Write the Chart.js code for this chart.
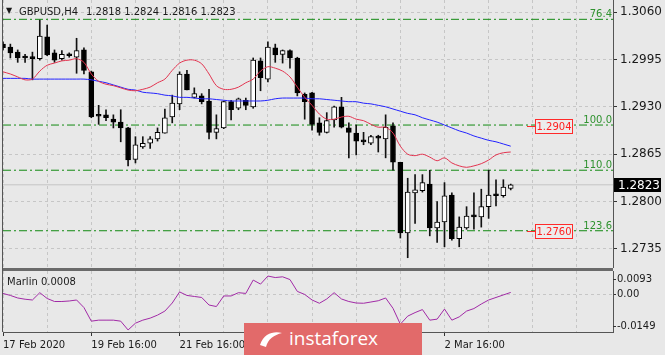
<!DOCTYPE html>
<html>
<head>
<meta charset="utf-8">
<script src="https://cdn.jsdelivr.net/npm/chart.js@4.4.0/dist/chart.umd.min.js"></script>
<style>
  html, body { margin: 0; padding: 0; background: #e8e8e8; }
  #wrap { position: relative; width: 665px; height: 355px; overflow: hidden; background: #e8e8e8; font-family: "DejaVu Sans", sans-serif; color: #1a1a1a; }
  #main { position: absolute; left: 0; top: 0; }
  #sub { position: absolute; left: 0; top: 268px; }
  .txt { position: absolute; font-size: 10px; line-height: 12px; white-space: pre; }
  #logo { position: absolute; left: 244px; top: 323px; width: 178px; height: 32px; background: #e26a6a; }
  #logo span { position: absolute; left: 45px; top: 3px; font-family: "Open Sans", sans-serif; font-size: 19px; line-height: 24px; color: #fff; }
  #logo svg { position: absolute; left: 14px; top: 6px; }
</style>
</head>
<body>
<div id="wrap">
  <canvas id="main" width="665" height="268"></canvas>
  <canvas id="sub" width="665" height="87"></canvas>
  <div class="txt" style="left:6px;top:5px;font-size:8px;">▼</div>
  <div class="txt" id="sym" style="left:19px;top:6px;"></div>
  <div class="txt" id="ohlc" style="left:86px;top:6px;"></div>
  <div id="logo">
    <svg width="26" height="20" viewBox="0 0 26 20"><path d="M2 16 C6 4, 16 2, 24 4 C16 6, 10 10, 8 18 Z" fill="#fff"/></svg>
    <span>instaforex</span>
  </div>
</div>
<script>
// GBPUSD H4 candles, bar 0 = 17 Feb 2020 16:00
var symbol = 'GBPUSD,H4';
var open = [
  1.3016, 1.3012, 1.3005, 1.2998, 1.2997, 1.2996, 1.3026, 1.3004, 1.2996, 1.3001,
  1.2998, 1.3008, 1.2978, 1.2919, 1.2919, 1.2913, 1.2909, 1.2901, 1.2858, 1.2875,
  1.2880, 1.2886, 1.2894, 1.2916, 1.2934, 1.2975, 1.2943, 1.2945, 1.2938, 1.2895,
  1.2901, 1.2937, 1.2928, 1.2939, 1.2930, 1.2993, 1.2968, 1.3011, 1.3002, 1.3007,
  1.2997, 1.2947, 1.2949, 1.2908, 1.2895, 1.2912, 1.2930, 1.2901, 1.2894, 1.2883,
  1.2880, 1.2889, 1.2886, 1.2904, 1.2854, 1.2757, 1.2812, 1.2815, 1.2824, 1.2764,
  1.2772, 1.2809, 1.2749, 1.2764, 1.2780, 1.2779, 1.2793, 1.2809, 1.2808, 1.2818
];
var high = [
  1.3019, 1.3016, 1.3008, 1.3002, 1.3005, 1.3049, 1.3042, 1.3008, 1.3007, 1.3004,
  1.3024, 1.3011, 1.2979, 1.2932, 1.2926, 1.2919, 1.2926, 1.2902, 1.2889, 1.2889,
  1.2889, 1.2901, 1.2927, 1.2946, 1.2978, 1.2980, 1.2956, 1.2948, 1.2954, 1.2919,
  1.2938, 1.2939, 1.2942, 1.2942, 1.2997, 1.2997, 1.3019, 1.3016, 1.3008, 1.3008,
  1.2998, 1.2949, 1.2950, 1.2915, 1.2922, 1.2931, 1.2943, 1.2908, 1.2905, 1.2895,
  1.2891, 1.2891, 1.2919, 1.2908, 1.2854, 1.2832, 1.2837, 1.2837, 1.2843, 1.2800,
  1.2826, 1.2812, 1.2779, 1.2793, 1.2812, 1.2817, 1.2843, 1.2830, 1.2830, 1.2824
];
var low = [
  1.3008, 1.2997, 1.2991, 1.2991, 1.2967, 1.2994, 1.3000, 1.2991, 1.2994, 1.2998,
  1.2976, 1.2975, 1.2915, 1.2906, 1.2911, 1.2901, 1.2882, 1.2849, 1.2853, 1.2873,
  1.2873, 1.2883, 1.2894, 1.2908, 1.2926, 1.2953, 1.2942, 1.2934, 1.2886, 1.2886,
  1.2900, 1.2912, 1.2926, 1.2926, 1.2928, 1.2952, 1.2964, 1.2991, 1.2990, 1.2983,
  1.2945, 1.2913, 1.2898, 1.2891, 1.2894, 1.2902, 1.2901, 1.2860, 1.2864, 1.2878,
  1.2878, 1.2868, 1.2860, 1.2843, 1.2750, 1.2723, 1.2770, 1.2813, 1.2753, 1.2744,
  1.2738, 1.2747, 1.2738, 1.2762, 1.2762, 1.2765, 1.2777, 1.2794, 1.2806, 1.2816
];
var close = [
  1.3011, 1.3004, 1.2997, 1.2997, 1.2996, 1.3027, 1.3001, 1.2994, 1.3002, 1.3000,
  1.3007, 1.2980, 1.2916, 1.2917, 1.2915, 1.2909, 1.2901, 1.2857, 1.2878, 1.2880,
  1.2886, 1.2895, 1.2915, 1.2935, 1.2975, 1.2953, 1.2948, 1.2937, 1.2895, 1.2900,
  1.2937, 1.2926, 1.2941, 1.2932, 1.2994, 1.2970, 1.3012, 1.3001, 1.3007, 1.2997,
  1.2949, 1.2937, 1.2906, 1.2895, 1.2911, 1.2930, 1.2902, 1.2895, 1.2883, 1.2882,
  1.2889, 1.2887, 1.2902, 1.2854, 1.2757, 1.2813, 1.2816, 1.2826, 1.2764, 1.2772,
  1.2808, 1.2749, 1.2765, 1.2780, 1.2779, 1.2793, 1.2809, 1.2808, 1.2820, 1.2823
];
// moving averages
var fastMA = [
  1.2978, 1.2975, 1.2971, 1.2967, 1.2968, 1.2979, 1.2987, 1.2990, 1.2993, 1.2994,
  1.2996, 1.2991, 1.2975, 1.2965, 1.2961, 1.2959, 1.2956, 1.2953, 1.2952, 1.2954,
  1.2957, 1.2963, 1.2968, 1.2980, 1.2990, 1.2994, 1.2994, 1.2989, 1.2975, 1.2959,
  1.2954, 1.2954, 1.2957, 1.2963, 1.2968, 1.2979, 1.2985, 1.2983, 1.2979, 1.2971,
  1.2957, 1.2943, 1.2932, 1.2920, 1.2913, 1.2913, 1.2916, 1.2917, 1.2913, 1.2911,
  1.2906, 1.2902, 1.2902, 1.2894, 1.2876, 1.2865, 1.2863, 1.2865, 1.2861, 1.2856,
  1.2860, 1.2853, 1.2849, 1.2847, 1.2849, 1.2852, 1.2857, 1.2864, 1.2867, 1.2868
];
var slowMA = [
  1.2969, 1.2969, 1.2969, 1.2969, 1.2968, 1.2968, 1.2968, 1.2968, 1.2968, 1.2968,
  1.2968, 1.2968, 1.2967, 1.2965, 1.2963, 1.2960, 1.2957, 1.2954, 1.2953, 1.2950,
  1.2949, 1.2948, 1.2946, 1.2945, 1.2943, 1.2943, 1.2942, 1.2941, 1.2941, 1.2940,
  1.2939, 1.2938, 1.2938, 1.2938, 1.2938, 1.2938, 1.2939, 1.2941, 1.2942, 1.2942,
  1.2942, 1.2942, 1.2941, 1.2941, 1.2940, 1.2939, 1.2938, 1.2937, 1.2937, 1.2935,
  1.2934, 1.2932, 1.2930, 1.2927, 1.2924, 1.2921, 1.2919, 1.2915, 1.2912, 1.2909,
  1.2905, 1.2901, 1.2897, 1.2894, 1.2890, 1.2887, 1.2884, 1.2882, 1.2879, 1.2876
];
var marlin = [
  0.0004, -0.0004, -0.0014, -0.0019, -0.0022, 0.0007, -0.0016, -0.0028, -0.0028, -0.0026,
  -0.0022, -0.0052, -0.0106, -0.0102, -0.0102, -0.0102, -0.0106, -0.0141, -0.0114, -0.0102,
  -0.0094, -0.0082, -0.0066, -0.0034, 0.0010, -0.0004, -0.0008, -0.0012, -0.0042, -0.0048,
  -0.0006, -0.0006, 0.0007, 0.0004, 0.0057, 0.0041, 0.0073, 0.0067, 0.0070, 0.0059,
  0.0012, 0.0000, -0.0022, -0.0035, -0.0018, 0.0007, -0.0018, -0.0028, -0.0034, -0.0035,
  -0.0030, -0.0025, -0.0014, -0.0055, -0.0118, -0.0086, -0.0072, -0.0060, -0.0102, -0.0098,
  -0.0058, -0.0102, -0.0089, -0.0066, -0.0056, -0.0038, -0.0022, -0.0012, -0.0002, 0.0008
];
var priceTicks = [1.3060, 1.2995, 1.2930, 1.2865, 1.2800, 1.2735];
var fibLevels = [1.3050, 1.2905, 1.2843, 1.2760];
var fibNames = ['76.4', '100.0', '110.0', '123.6'];
var alertLevels = [1.2904, 1.2760];
var marlinTicks = [0.0093, 0, -0.0149];
var dateLabels = ['17 Feb 2020', '19 Feb 16:00', '21 Feb 16:00', '25 Feb 16:00', '27 Feb 16:00', '2 Mar 16:00'];
var barsPerLabel = 12;
var barsPerGrid = 6;

var last = close.length - 1;
var xMax = 82.9;

Chart.defaults.font.family = '"DejaVu Sans", sans-serif';
Chart.defaults.color = '#1a1a1a';
Chart.defaults.animation = false;

document.getElementById('sym').textContent = symbol;
document.getElementById('ohlc').textContent = [open[last], high[last], low[last], close[last]].map(function (v) { return v.toFixed(4); }).join(' ');

function pts(arr) { return arr.map(function (v, i) { return { x: i, y: v }; }); }
function hline(v) { return [{ x: 0, y: v }, { x: xMax, y: v }]; }
function gridTicks(scale) {
    var t = [];
    for (var v = 0; v <= xMax; v += barsPerGrid) t.push({ value: v });
    scale.ticks = t;
}

var GRID = '#c6c6c6';
var AXIS = '#555555';

/* main price window */
var mainDecor = {
    id: 'mainDecor',
    afterDraw: function (chart) {
        var ctx = chart.ctx, a = chart.chartArea, y = chart.scales.y;
        ctx.save();
        ctx.strokeStyle = AXIS;
        ctx.lineWidth = 1;
        ctx.beginPath(); ctx.moveTo(a.left - 0.5, 0); ctx.lineTo(a.left - 0.5, a.bottom); ctx.stroke();

        ctx.font = '10px "DejaVu Sans"';
        ctx.fillStyle = '#2f922f';
        ctx.textAlign = 'right';
        ctx.textBaseline = 'alphabetic';
        fibLevels.forEach(function (lv, i) {
            ctx.fillText(fibNames[i], a.right - 1, y.getPixelForValue(lv) - 2);
        });

        alertLevels.forEach(function (lv) {
            var py = Math.round(y.getPixelForValue(lv)) + 0.5;
            var bx = a.right - 78, bw = 38;
            ctx.strokeStyle = '#ff2a2a';
            ctx.beginPath(); ctx.moveTo(bx - 8, py); ctx.lineTo(bx, py); ctx.stroke();
            ctx.fillStyle = '#ececec';
            ctx.fillRect(bx, py - 7, bw, 14);
            ctx.strokeRect(bx + 0.5, py - 7, bw - 1, 14);
            ctx.fillStyle = '#ff2020';
            ctx.textAlign = 'center';
            ctx.textBaseline = 'middle';
            ctx.fillText(lv.toFixed(4), bx + bw / 2, py + 0.5);
        });

        var cy = Math.round(y.getPixelForValue(close[last]));
        ctx.fillStyle = '#000';
        ctx.fillRect(a.right + 1, cy - 7, 47, 14);
        ctx.fillStyle = '#fff';
        ctx.font = '12px "DejaVu Sans"';
        ctx.textAlign = 'left';
        ctx.textBaseline = 'middle';
        ctx.fillText(close[last].toFixed(4), a.right + 5, cy + 0.5);
        ctx.restore();
    }
};

new Chart(document.getElementById('main'), {
    type: 'bar',
    data: {
        datasets: [
            { type: 'line', data: pts(fastMA), borderColor: '#e2334f', borderWidth: 1, pointRadius: 0, tension: 0.3, order: 1 },
            { type: 'line', data: pts(slowMA), borderColor: '#2222ff', borderWidth: 1, pointRadius: 0, tension: 0.3, order: 2 },
            {
                type: 'bar',
                data: open.map(function (o, i) { return { x: i, y: [o, close[i]] }; }),
                backgroundColor: function (c) { return close[c.dataIndex] >= open[c.dataIndex] ? '#ffffff' : '#000000'; },
                borderColor: '#000', borderWidth: 1, borderSkipped: false,
                barThickness: 5, minBarLength: 2, grouped: false, order: 3
            },
            {
                type: 'bar',
                data: low.map(function (l, i) { return { x: i, y: [l, high[i]] }; }),
                backgroundColor: '#111', barThickness: 1, grouped: false, order: 4
            },
            { type: 'line', data: hline(fibLevels[0]), borderColor: '#128a12', borderWidth: 1, borderDash: [8, 3, 2, 3], pointRadius: 0, order: 5 },
            { type: 'line', data: hline(fibLevels[1]), borderColor: '#128a12', borderWidth: 1, borderDash: [8, 3, 2, 3], pointRadius: 0, order: 5 },
            { type: 'line', data: hline(fibLevels[2]), borderColor: '#128a12', borderWidth: 1, borderDash: [8, 3, 2, 3], pointRadius: 0, order: 5 },
            { type: 'line', data: hline(fibLevels[3]), borderColor: '#128a12', borderWidth: 1, borderDash: [8, 3, 2, 3], pointRadius: 0, order: 5 },
            { type: 'line', data: hline(close[last]), borderColor: '#c4c4c4', borderWidth: 1, pointRadius: 0, order: 6 }
        ]
    },
    options: {
        responsive: false,
        layout: { padding: { left: 3, top: 0, right: 0, bottom: 0 } },
        plugins: { legend: { display: false }, tooltip: { enabled: false } },
        scales: {
            x: {
                type: 'linear', min: 0, max: xMax, offset: false,
                afterBuildTicks: gridTicks,
                afterFit: function (s) { s.height = 0; s.paddingLeft = 0; s.paddingRight = 0; },
                ticks: { display: false },
                grid: { color: GRID, drawTicks: false, offset: false },
                border: { display: false, dash: [3, 3] }
            },
            y: {
                type: 'linear', position: 'right', min: 1.27089, max: 1.30765, beginAtZero: false,
                afterBuildTicks: function (s) { s.ticks = priceTicks.map(function (v) { return { value: v }; }); },
                afterFit: function (s) { s.width = 52; s.paddingTop = 0; s.paddingBottom = 0; },
                ticks: { font: { size: 12 }, padding: 3, callback: function (v) { return v.toFixed(4); } },
                grid: { color: GRID, tickLength: 4, tickColor: '#333' },
                border: { display: true, color: AXIS, width: 1, dash: [3, 3] }
            }
        }
    },
    plugins: [mainDecor]
});

/* Marlin window */
var subDecor = {
    id: 'subDecor',
    afterDraw: function (chart) {
        var ctx = chart.ctx, a = chart.chartArea;
        ctx.save();
        ctx.fillStyle = '#6a6a6a';
        ctx.fillRect(a.left - 1, 0, a.right - a.left + 1, 3);
        ctx.strokeStyle = AXIS;
        ctx.lineWidth = 1;
        ctx.beginPath(); ctx.moveTo(a.left - 0.5, 0); ctx.lineTo(a.left - 0.5, a.bottom); ctx.stroke();

        ctx.font = '10px "DejaVu Sans"';
        ctx.fillStyle = '#1a1a1a';
        ctx.textBaseline = 'middle';
        ctx.textAlign = 'left';
        ctx.fillText('Marlin ' + marlin[last].toFixed(4), a.left + 4, a.top + 11);

        var spots = [[marlinTicks[0], a.top + 8], [marlinTicks[2], a.bottom - 6]];
        spots.forEach(function (s) {
            ctx.strokeStyle = '#333';
            ctx.beginPath(); ctx.moveTo(a.right, s[1] + 0.5); ctx.lineTo(a.right + 3, s[1] + 0.5); ctx.stroke();
            ctx.fillText(s[0].toFixed(4), a.right + 4, s[1] + 0.5);
        });
        ctx.restore();
    }
};

new Chart(document.getElementById('sub'), {
    type: 'line',
    data: {
        datasets: [
            { data: pts(marlin), borderColor: '#a12aa6', borderWidth: 1, pointRadius: 0, tension: 0 }
        ]
    },
    options: {
        responsive: false,
        layout: { padding: { left: 3, top: 3, right: 0, bottom: 0 } },
        plugins: { legend: { display: false }, tooltip: { enabled: false } },
        scales: {
            x: {
                type: 'linear', min: 0, max: xMax, offset: false,
                afterBuildTicks: gridTicks,
                afterFit: function (s) { s.height = 23; s.paddingLeft = 0; s.paddingRight = 0; },
                ticks: {
                    autoSkip: false, maxRotation: 0, align: 'start', padding: 3, font: { size: 10 },
                    callback: function (v) { return v % barsPerLabel === 0 ? (dateLabels[v / barsPerLabel] || '') : ''; }
                },
                grid: {
                    color: GRID, tickLength: 4, offset: false,
                    tickColor: function (c) {
                        var v = c.tick ? c.tick.value : -1;
                        return (v % barsPerLabel === 0 && dateLabels[v / barsPerLabel]) ? '#333' : 'rgba(0,0,0,0)';
                    }
                },
                border: { display: true, color: AXIS, width: 1, dash: [3, 3] }
            },
            y: {
                type: 'linear', position: 'right', min: marlinTicks[2], max: marlinTicks[0],
                afterBuildTicks: function (s) { s.ticks = [{ value: marlinTicks[1] }]; },
                afterFit: function (s) { s.width = 52; s.paddingTop = 0; s.paddingBottom = 0; },
                ticks: { font: { size: 10 }, padding: 1, callback: function (v) { return v.toFixed(2); } },
                grid: { color: GRID, tickLength: 3, tickColor: '#333' },
                border: { display: true, color: AXIS, width: 1, dash: [3, 3] }
            }
        }
    },
    plugins: [subDecor]
});
</script>
</body>
</html>
